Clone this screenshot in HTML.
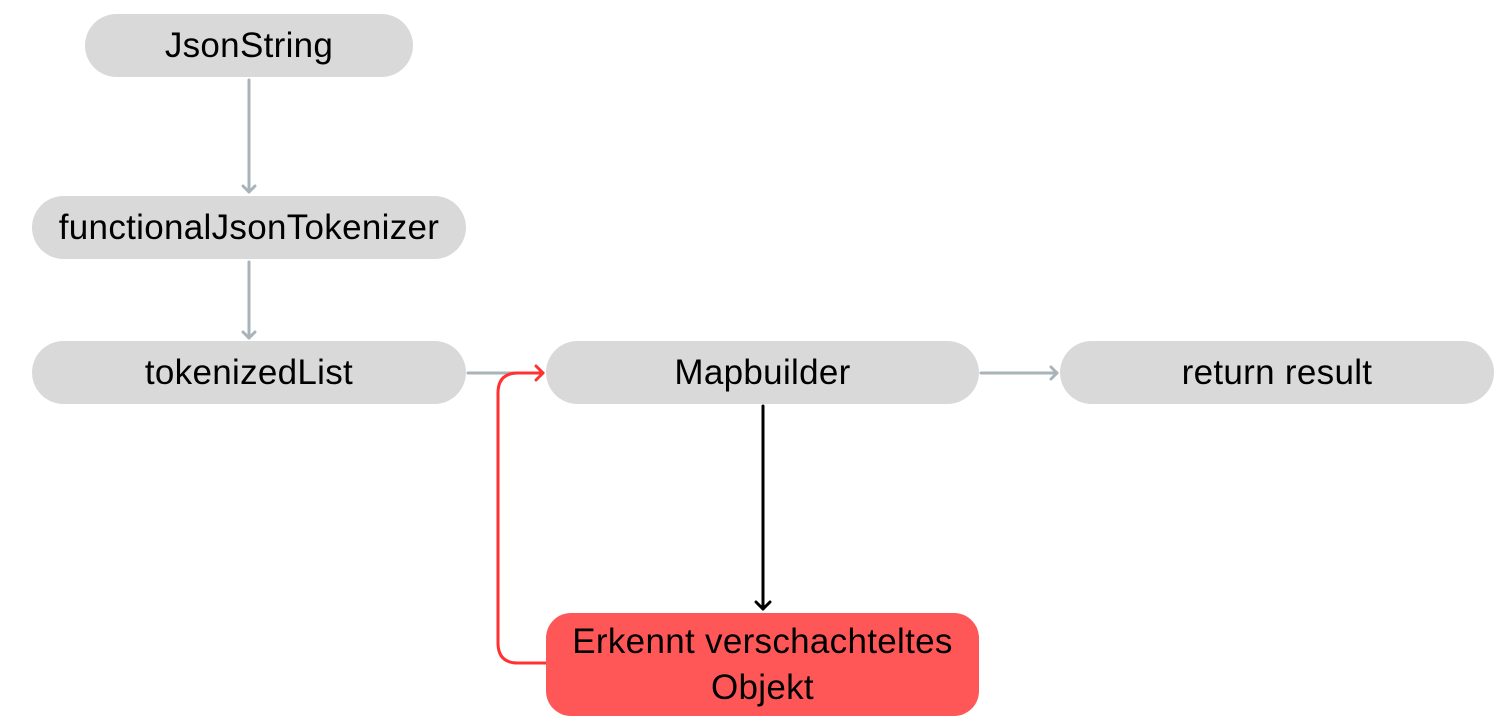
<!DOCTYPE html>
<html><head><style>
body{margin:0;width:1509px;height:728px;background:#fff;position:relative;overflow:hidden;font-family:"Liberation Sans",sans-serif}
.b{position:absolute;background:#d9d9d9;border-radius:32px;display:flex;align-items:center;justify-content:center;font-size:35px;letter-spacing:0.3px;color:#000;text-align:center;line-height:46px}
</style></head><body>
<svg width="1509" height="728" style="position:absolute;left:0;top:0">
<g stroke="#a9b4ba" stroke-width="3" fill="none" stroke-linecap="round" stroke-linejoin="round">
<line x1="249" y1="80" x2="249" y2="192"/><polyline points="243,186 249,192 255,186"/>
<line x1="249" y1="262" x2="249" y2="338"/><polyline points="243,332 249,338 255,332"/>
<line x1="468" y1="373" x2="520" y2="373"/>
<line x1="981" y1="373" x2="1057" y2="373"/><polyline points="1051,367 1057,373 1051,379"/>
</g>
<g stroke="#000" stroke-width="3" fill="none" stroke-linecap="round" stroke-linejoin="round">
<line x1="763" y1="406" x2="763" y2="609"/><polyline points="756,602 763,609 770,602"/>
</g>
<g stroke="#ff3131" stroke-width="3" fill="none" stroke-linecap="round" stroke-linejoin="round">
<path d="M546 663 H518 Q498 663 498 643 V393 Q498 373 518 373 H543"/>
<polyline points="536,366 543,373 536,380"/>
</g>
</svg>
<div class="b" style="left:85px;top:14px;width:328px;height:63px">JsonString</div>
<div class="b" style="left:32px;top:196px;width:434px;height:63px">functionalJsonTokenizer</div>
<div class="b" style="left:32px;top:341px;width:434px;height:63px">tokenizedList</div>
<div class="b" style="left:546px;top:341px;width:433px;height:63px">Mapbuilder</div>
<div class="b" style="left:1060px;top:341px;width:434px;height:63px">return result</div>
<div class="b" style="left:546px;top:613px;width:433px;height:103px;background:#ff5757;border-radius:25px">Erkennt verschachteltes<br>Objekt</div>
</body></html>
